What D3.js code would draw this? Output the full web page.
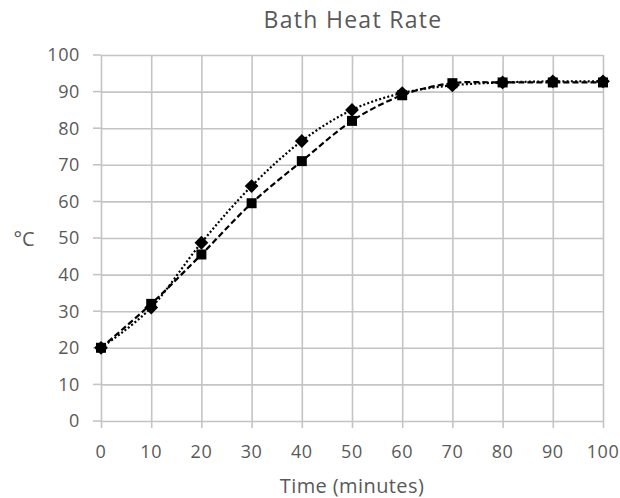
<!DOCTYPE html>
<html>
<head>
<meta charset="utf-8">
<script src="https://cdn.jsdelivr.net/npm/d3@7"></script>
<style>
  body { margin: 0; background: #fff; }
  text { font-family: "Open Sans", sans-serif; fill: #595959; }
</style>
</head>
<body>
<div id="chart"></div>
<script>
/* Chart data */
var times = [0, 10, 20, 30, 40, 50, 60, 70, 80, 90, 100];
var squareTemps = [20, 32, 45.5, 59.5, 71, 82, 89, 92.3, 92.5, 92.5, 92.5];
var diamondTemps = [20, 31, 48.7, 64.2, 76.5, 85, 89.6, 91.7, 92.5, 92.8, 92.8];
var xTicks = [0, 10, 20, 30, 40, 50, 60, 70, 80, 90, 100];
var yTicks = [0, 10, 20, 30, 40, 50, 60, 70, 80, 90, 100];

var width = 620, height = 498;
var margin = { top: 55, left: 101, right: 17, bottom: 77 };

var svg = d3.select("#chart").append("svg")
    .attr("width", width)
    .attr("height", height);

var x = d3.scaleLinear().domain([0, 100]).range([margin.left, width - margin.right]);
var y = d3.scaleLinear().domain([0, 100]).range([height - margin.bottom, margin.top]);

/* Gridlines */
svg.append("g")
    .attr("transform", "translate(" + margin.left + ",0)")
    .call(d3.axisLeft(y).tickValues(yTicks).tickSize(-(width - margin.left - margin.right)).tickFormat(""))
    .call(function(g) { g.select(".domain").remove(); })
    .selectAll("line").attr("stroke", "#c4c4c4").attr("stroke-width", 1.6);

svg.append("g")
    .attr("transform", "translate(0," + margin.top + ")")
    .call(d3.axisBottom(x).tickValues(xTicks).tickSize(height - margin.bottom - margin.top + 7).tickFormat(""))
    .call(function(g) { g.select(".domain").remove(); })
    .selectAll("line").attr("stroke", "#c4c4c4").attr("stroke-width", 1.6);

/* tick marks left of the y axis */
svg.append("g").selectAll("line")
    .data(yTicks).enter().append("line")
    .attr("x1", margin.left - 8).attr("x2", margin.left)
    .attr("y1", function(d) { return y(d); })
    .attr("y2", function(d) { return y(d); })
    .attr("stroke", "#c4c4c4").attr("stroke-width", 1.6);

/* Tick labels */
svg.append("g").selectAll("text")
    .data(yTicks).enter().append("text")
    .attr("x", 80)
    .attr("y", function(d) { return y(d); })
    .attr("dy", "0.36em")
    .attr("text-anchor", "end")
    .attr("font-size", 18)
    .attr("letter-spacing", 0.6)
    .text(function(d) { return d; });

svg.append("g").selectAll("text")
    .data(xTicks).enter().append("text")
    .attr("x", function(d) { return x(d); })
    .attr("y", 458)
    .attr("text-anchor", "middle")
    .attr("font-size", 18)
    .attr("letter-spacing", 0.6)
    .text(function(d) { return d; });

/* Titles */
svg.append("text")
    .attr("x", 353).attr("y", 28)
    .attr("text-anchor", "middle")
    .attr("font-size", 23)
    .attr("letter-spacing", 1.3)
    .text("Bath Heat Rate");

svg.append("text")
    .attr("x", 352).attr("y", 493)
    .attr("text-anchor", "middle")
    .attr("font-size", 20)
    .attr("letter-spacing", 0.4)
    .text("Time (minutes)");

svg.append("text")
    .attr("x", 24).attr("y", 246)
    .attr("text-anchor", "middle")
    .attr("font-size", 20)
    .text("°C");

/* Series */
function drawSeries(values, dash, size, angle) {
    var pts = times.map(function(t, i) { return [t, values[i]]; });
    var line = d3.line()
        .x(function(d) { return x(d[0]); })
        .y(function(d) { return y(d[1]); })
        .curve(d3.curveCardinal.tension(0));
    svg.append("path")
        .datum(pts)
        .attr("d", line)
        .attr("fill", "none")
        .attr("stroke", "#000")
        .attr("stroke-width", 2.2)
        .attr("stroke-dasharray", dash);
    svg.append("g").selectAll("path")
        .data(pts).enter().append("path")
        .attr("transform", function(d) { return "translate(" + x(d[0]) + "," + y(d[1]) + ") rotate(" + angle + ")"; })
        .attr("d", d3.symbol().type(d3.symbolSquare).size(size))
        .attr("fill", "#000");
}

drawSeries(squareTemps, "6,3", 100, 0);
drawSeries(diamondTemps, "2,2.2", 95, 45);
</script>
</body>
</html>
